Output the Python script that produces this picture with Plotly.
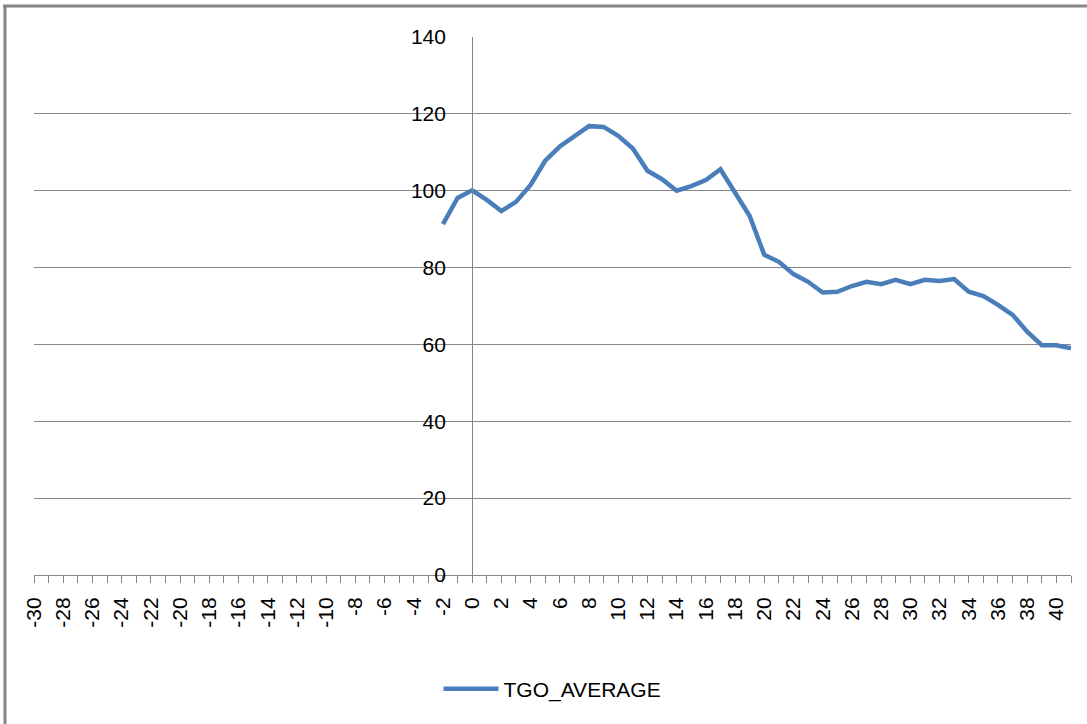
import plotly.graph_objects as go

# Data
days = list(range(-2, 42))
tgo_average = [91.3, 98.1, 100.1, 97.6, 94.7, 97.1, 101.5, 107.8, 111.5, 114.1,
               116.8, 116.6, 114.3, 111.0, 105.2, 103.0, 100.0, 101.2, 102.8, 105.6,
               99.3, 93.4, 83.3, 81.5, 78.3, 76.3, 73.5, 73.7, 75.2, 76.3,
               75.7, 76.8, 75.7, 76.8, 76.5, 77.0, 73.7, 72.6, 70.3, 67.7,
               63.3, 59.8, 59.8, 59.0]
x_label_vals = list(range(-30, 41, 2))
x_label_text = [str(v) for v in x_label_vals]
y_tick_vals = [0, 20, 40, 60, 80, 100, 120, 140]

W, H = 1087, 724
L, R, T, B = 34, 1071, 37, 575
pw, ph = R - L, B - T
GRAY = "#868686"
FONT = "Liberation Sans"

fig = go.Figure()
fig.add_trace(go.Scatter(
    x=days, y=tgo_average, mode="lines", name="TGO_AVERAGE",
    line=dict(color="#4A7EBB", width=4.5),
))

x0_pos = (0 - (-30)) / (41 - (-30))

fig.update_layout(
    width=W, height=H,
    margin=dict(l=L, r=W - R, t=T, b=H - B, autoexpand=False),
    paper_bgcolor="white", plot_bgcolor="white",
    font=dict(family=FONT, size=21, color="#000000"),
    showlegend=True,
    legend=dict(orientation="h", x=0.5, xanchor="center",
                y=(B - 689) / ph, yanchor="middle",
                font=dict(family=FONT, size=21, color="#000000"),
                itemwidth=55, bgcolor="rgba(0,0,0,0)"),
    xaxis=dict(
        range=[-30, 41], showgrid=False, zeroline=False,
        showline=True, linecolor=GRAY, linewidth=1,
        tickmode="array", tickvals=x_label_vals, ticktext=x_label_text,
        ticks="outside", ticklen=7, tickcolor=GRAY, tickwidth=1,
        tickangle=-90, tickfont=dict(family=FONT, size=21, color="#000000"),
        ticklabelstandoff=6,
        minor=dict(dtick=1, tick0=-30, ticks="outside", ticklen=7,
                   tickcolor=GRAY, tickwidth=1, showgrid=False),
    ),
    yaxis=dict(
        range=[0, 140], tickvals=y_tick_vals, showgrid=True,
        gridcolor=GRAY, gridwidth=1, zeroline=False,
        anchor="free", position=x0_pos, side="left",
        showline=True, linecolor=GRAY, linewidth=1, ticks="",
        ticklabelstandoff=22,
        tickfont=dict(family=FONT, size=21, color="#000000"),
    ),
    shapes=[
        dict(type="line", xref="paper", yref="paper",
             x0=(3 - L) / pw, x1=(W - L) / pw,
             y0=(B - 6) / ph, y1=(B - 6) / ph,
             line=dict(color=GRAY, width=3)),
        dict(type="line", xref="paper", yref="paper",
             x0=(5 - L) / pw, x1=(5 - L) / pw,
             y0=(B - 5) / ph, y1=(B - H) / ph,
             line=dict(color=GRAY, width=3)),
    ],
)

fig.write_html("out.html",
               config={"displayModeBar": False},
               post_script="document.body.style.margin='0';document.body.style.padding='0';")
